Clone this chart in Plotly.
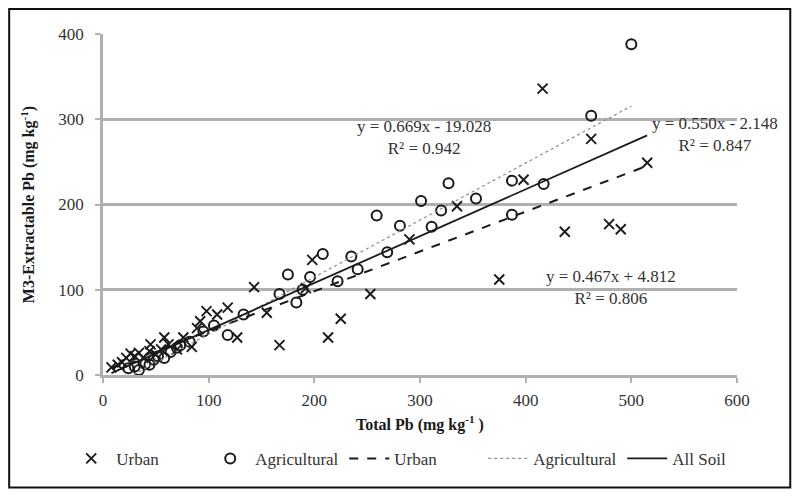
import plotly.graph_objects as go

# ── Data ──────────────────────────────────────────────────────────
urban_x = [8, 14, 18, 22, 26, 30, 34, 38, 44, 45, 50, 55, 58, 62, 70, 76, 84, 89, 92,
           98, 108, 118, 127, 143, 155, 167, 192, 198, 213, 225, 253, 290, 335,
           375, 398, 416, 437, 462, 479, 490, 515]
urban_y = [9, 12, 15, 20, 25, 22, 26, 20, 28, 36, 24, 30, 44, 36, 30, 44, 33, 55, 63,
           75, 71, 79, 44, 103, 73, 35, 102, 135, 44, 66, 95, 159, 198,
           112, 229, 336, 168, 277, 177, 171, 249]

agri_x = [24, 30, 34, 40, 44, 48, 52, 58, 64, 70, 73, 82, 95, 105, 118, 133,
          167, 175, 183, 189, 196, 208, 222, 235, 241, 259, 269, 281, 301, 311,
          320, 327, 353, 387, 387, 417, 462, 500]
agri_y = [8, 10, 6, 13, 12, 18, 22, 20, 27, 32, 35, 39, 51, 58, 47, 71,
          95, 118, 85, 100, 115, 142, 110, 139, 124, 187, 144, 175, 204, 174,
          193, 225, 207, 228, 188, 224, 304, 388]

# trendline coefficients (slope, intercept, R²) as printed on the chart
urban_fit = (0.467, 4.812, 0.806)
agri_fit = (0.669, -19.028, 0.942)
all_fit = (0.550, -2.148, 0.847)

FONT = "Liberation Serif, Times New Roman, serif"
GRID = "#b0b0b0"
INK = "#1a1a1a"
TXT = "#333333"


def fit_line(xs, fit):
    lo, hi = min(xs), max(xs)
    return [lo, hi], [fit[0] * lo + fit[1], fit[0] * hi + fit[1]]


def eq_text(fit):
    sign = "-" if fit[1] < 0 else "+"
    return f"y = {fit[0]:.3f}x {sign} {abs(fit[1]):.3f}<br>R² = {fit[2]:.3f}"


fig = go.Figure()

fig.add_trace(go.Scatter(
    x=urban_x, y=urban_y, mode="markers", name="Urban",
    marker=dict(symbol="x-thin", size=10, line=dict(color=INK, width=1.9)),
))
fig.add_trace(go.Scatter(
    x=agri_x, y=agri_y, mode="markers", name="Agricultural",
    marker=dict(symbol="circle-open", size=10, color=INK, line=dict(width=2)),
))

ux, uy = fit_line(urban_x, urban_fit)
fig.add_trace(go.Scatter(x=ux, y=uy, mode="lines", name="Urban",
                         line=dict(color=INK, width=2, dash="dash")))
ax, ay = fit_line(agri_x, agri_fit)
fig.add_trace(go.Scatter(x=ax, y=ay, mode="lines", name="Agricultural",
                         line=dict(color="#8c8c8c", width=1.2, dash="dot")))
sx, sy = fit_line(urban_x + agri_x, all_fit)
fig.add_trace(go.Scatter(x=sx, y=sy, mode="lines", name="All Soil",
                         line=dict(color=INK, width=1.8)))

# equation labels
for fit, xx, yy in [(agri_fit, 304, 279), (all_fit, 579, 282), (urban_fit, 481, 103)]:
    fig.add_annotation(x=xx, y=yy, text=eq_text(fit), showarrow=False,
                       font=dict(family=FONT, size=17, color=TXT),
                       align="center")

# outer frame
fig.add_shape(type="rect", xref="paper", yref="paper",
              x0=-0.148, x1=1.084, y0=-0.330, y1=1.073,
              line=dict(color="#111111", width=2), fillcolor="rgba(0,0,0,0)")

# page body keeps an 8px margin, so the figure is sized to fit inside it
fig.update_layout(
    width=784, height=482,
    margin=dict(l=95, r=55, t=26, b=115),
    plot_bgcolor="white", paper_bgcolor="white",
    font=dict(family=FONT, size=17, color=TXT),
    xaxis=dict(
        range=[0, 600], dtick=100, showgrid=False, zeroline=False,
        showline=True, linecolor=GRID, linewidth=2.5,
        ticks="outside", ticklen=5, tickcolor=GRID, tickwidth=2,
        ticklabelstandoff=3,
        title=dict(text="<b>Total Pb (mg kg<sup>-1</sup> )</b>", standoff=10,
                   font=dict(size=16, color=INK)),
    ),
    yaxis=dict(
        range=[0, 400], dtick=100, showgrid=True, gridcolor=GRID, gridwidth=2.5,
        zeroline=False, showline=True, linecolor=GRID, linewidth=2.5,
        ticks="outside", ticklen=5, tickcolor=GRID, tickwidth=2,
        ticklabelstandoff=8,
        title=dict(text="<b>M3-Extractable Pb (mg kg<sup>-1</sup>)</b>", standoff=20,
                   font=dict(size=16, color=INK)),
    ),
    legend=dict(orientation="h", x=-0.058, y=-0.246, xanchor="left", yanchor="middle",
                font=dict(size=17, color=TXT), itemwidth=40,
                entrywidth=84, entrywidthmode="pixels",
                bgcolor="rgba(0,0,0,0)"),
)

fig.write_html("out.html")
